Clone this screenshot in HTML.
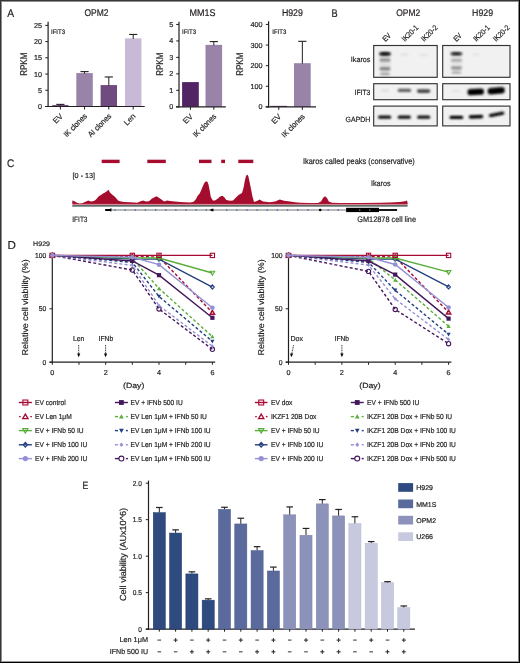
<!DOCTYPE html>
<html><head><meta charset="utf-8"><style>
html,body{margin:0;padding:0;background:#fff;}
svg{display:block;will-change:transform;}
text{text-rendering:geometricPrecision;stroke:#231f20;stroke-width:0.2px;font-family:"Liberation Sans", sans-serif;}
</style></head><body>
<svg width="520" height="663" viewBox="0 0 520 663" fill="#231f20">
<defs><filter id="b3" x="-50%" y="-50%" width="200%" height="200%"><feGaussianBlur stdDeviation="0.3"/></filter><filter id="b4" x="-50%" y="-50%" width="200%" height="200%"><feGaussianBlur stdDeviation="0.4"/></filter><filter id="b5" x="-50%" y="-50%" width="200%" height="200%"><feGaussianBlur stdDeviation="0.5"/></filter><filter id="b6" x="-50%" y="-50%" width="200%" height="200%"><feGaussianBlur stdDeviation="0.6"/></filter><filter id="b7" x="-50%" y="-50%" width="200%" height="200%"><feGaussianBlur stdDeviation="0.7"/></filter><filter id="b8" x="-50%" y="-50%" width="200%" height="200%"><feGaussianBlur stdDeviation="0.8"/></filter><filter id="b9" x="-50%" y="-50%" width="200%" height="200%"><feGaussianBlur stdDeviation="0.9"/></filter><filter id="b10" x="-50%" y="-50%" width="200%" height="200%"><feGaussianBlur stdDeviation="1.0"/></filter><filter id="b11" x="-50%" y="-50%" width="200%" height="200%"><feGaussianBlur stdDeviation="1.1"/></filter><filter id="b12" x="-50%" y="-50%" width="200%" height="200%"><feGaussianBlur stdDeviation="1.2"/></filter><filter id="b13" x="-50%" y="-50%" width="200%" height="200%"><feGaussianBlur stdDeviation="1.3"/></filter><filter id="b14" x="-50%" y="-50%" width="200%" height="200%"><feGaussianBlur stdDeviation="1.4"/></filter><filter id="b15" x="-50%" y="-50%" width="200%" height="200%"><feGaussianBlur stdDeviation="1.5"/></filter></defs>
<rect width="520" height="663" fill="#fff"/>
<text x="7.2" y="17.1" font-size="11.2" textLength="6.9" lengthAdjust="spacingAndGlyphs">A</text>
<text x="96.5" y="15.5" font-size="9.8" text-anchor="middle" textLength="24" lengthAdjust="spacingAndGlyphs">OPM2</text>
<rect x="52.3" y="105.2" width="16.2" height="1.3" fill="#522464"/>
<line x1="60.4" y1="104.39" x2="60.4" y2="105.7" stroke="#231f20" stroke-width="1"/>
<line x1="56.3" y1="104.39" x2="64.5" y2="104.39" stroke="#231f20" stroke-width="1.1"/>
<line x1="60.4" y1="106.5" x2="60.4" y2="109.5" stroke="#231f20" stroke-width="1"/>
<text x="63.4" y="116.7" font-size="7.8" text-anchor="end" transform="rotate(-45 63.4 116.7)">EV</text>
<rect x="76.3" y="73.08" width="16.5" height="33.42" fill="#9a83a8"/>
<line x1="84.55" y1="71.62" x2="84.55" y2="73.58" stroke="#231f20" stroke-width="1"/>
<line x1="80.45" y1="71.62" x2="88.65" y2="71.62" stroke="#231f20" stroke-width="1.1"/>
<line x1="84.55" y1="106.5" x2="84.55" y2="109.5" stroke="#231f20" stroke-width="1"/>
<text x="87.55" y="116.7" font-size="7.8" text-anchor="end" textLength="29.5" lengthAdjust="spacingAndGlyphs" transform="rotate(-45 87.55 116.7)">IK clones</text>
<rect x="100.6" y="85.08" width="16.4" height="21.42" fill="#6f4b80"/>
<line x1="108.8" y1="76.97" x2="108.8" y2="85.58" stroke="#231f20" stroke-width="1"/>
<line x1="104.7" y1="76.97" x2="112.9" y2="76.97" stroke="#231f20" stroke-width="1.1"/>
<line x1="108.8" y1="106.5" x2="108.8" y2="109.5" stroke="#231f20" stroke-width="1"/>
<text x="111.8" y="116.7" font-size="7.8" text-anchor="end" textLength="29.5" lengthAdjust="spacingAndGlyphs" transform="rotate(-45 111.8 116.7)">AI clones</text>
<rect x="125" y="38.36" width="16.4" height="68.14" fill="#c8b9d6"/>
<line x1="133.2" y1="34.46" x2="133.2" y2="38.86" stroke="#231f20" stroke-width="1"/>
<line x1="129.1" y1="34.46" x2="137.3" y2="34.46" stroke="#231f20" stroke-width="1.1"/>
<line x1="133.2" y1="106.5" x2="133.2" y2="109.5" stroke="#231f20" stroke-width="1"/>
<text x="136.2" y="116.7" font-size="7.8" text-anchor="end" transform="rotate(-45 136.2 116.7)">Len</text>
<line x1="48.1" y1="21.8" x2="48.1" y2="107.1" stroke="#231f20" stroke-width="1.2"/>
<line x1="45.1" y1="106.5" x2="144.7" y2="106.5" stroke="#231f20" stroke-width="1.2"/>
<line x1="45.3" y1="106.5" x2="48.1" y2="106.5" stroke="#231f20" stroke-width="1"/>
<text x="41.9" y="109" font-size="7.2" text-anchor="end">0</text>
<line x1="45.3" y1="90.28" x2="48.1" y2="90.28" stroke="#231f20" stroke-width="1"/>
<text x="41.9" y="92.78" font-size="7.2" text-anchor="end">5</text>
<line x1="45.3" y1="74.05" x2="48.1" y2="74.05" stroke="#231f20" stroke-width="1"/>
<text x="41.9" y="76.55" font-size="7.2" text-anchor="end">10</text>
<line x1="45.3" y1="57.82" x2="48.1" y2="57.82" stroke="#231f20" stroke-width="1"/>
<text x="41.9" y="60.32" font-size="7.2" text-anchor="end">15</text>
<line x1="45.3" y1="41.6" x2="48.1" y2="41.6" stroke="#231f20" stroke-width="1"/>
<text x="41.9" y="44.1" font-size="7.2" text-anchor="end">20</text>
<line x1="45.3" y1="25.38" x2="48.1" y2="25.38" stroke="#231f20" stroke-width="1"/>
<text x="41.9" y="27.88" font-size="7.2" text-anchor="end">25</text>
<text x="26.9" y="64.2" font-size="9.8" text-anchor="middle" textLength="23" lengthAdjust="spacingAndGlyphs" transform="rotate(-90 26.9 64.2)">RPKM</text>
<text x="51" y="34.4" font-size="6.5" textLength="14" lengthAdjust="spacingAndGlyphs">IFIT3</text>
<text x="202.5" y="15.5" font-size="9.8" text-anchor="middle" textLength="26" lengthAdjust="spacingAndGlyphs">MM1S</text>
<rect x="182.1" y="82.09" width="16.7" height="24.7" fill="#522464"/>
<line x1="190.45" y1="106.8" x2="190.45" y2="109.8" stroke="#231f20" stroke-width="1"/>
<text x="193.45" y="117" font-size="7.8" text-anchor="end" transform="rotate(-45 193.45 117)">EV</text>
<rect x="205.5" y="44.87" width="16.6" height="61.93" fill="#9a83a8"/>
<line x1="213.8" y1="41.58" x2="213.8" y2="45.37" stroke="#231f20" stroke-width="1"/>
<line x1="209.7" y1="41.58" x2="217.9" y2="41.58" stroke="#231f20" stroke-width="1.1"/>
<line x1="213.8" y1="106.8" x2="213.8" y2="109.8" stroke="#231f20" stroke-width="1"/>
<text x="216.8" y="117" font-size="7.8" text-anchor="end" textLength="29.5" lengthAdjust="spacingAndGlyphs" transform="rotate(-45 216.8 117)">IK clones</text>
<line x1="179" y1="21.8" x2="179" y2="107.4" stroke="#231f20" stroke-width="1.2"/>
<line x1="176" y1="106.8" x2="225.8" y2="106.8" stroke="#231f20" stroke-width="1.2"/>
<line x1="176.2" y1="106.8" x2="179" y2="106.8" stroke="#231f20" stroke-width="1"/>
<text x="173.2" y="109.3" font-size="7.2" text-anchor="end">0</text>
<line x1="176.2" y1="90.33" x2="179" y2="90.33" stroke="#231f20" stroke-width="1"/>
<text x="173.2" y="92.83" font-size="7.2" text-anchor="end">1</text>
<line x1="176.2" y1="73.86" x2="179" y2="73.86" stroke="#231f20" stroke-width="1"/>
<text x="173.2" y="76.36" font-size="7.2" text-anchor="end">2</text>
<line x1="176.2" y1="57.39" x2="179" y2="57.39" stroke="#231f20" stroke-width="1"/>
<text x="173.2" y="59.89" font-size="7.2" text-anchor="end">3</text>
<line x1="176.2" y1="40.92" x2="179" y2="40.92" stroke="#231f20" stroke-width="1"/>
<text x="173.2" y="43.42" font-size="7.2" text-anchor="end">4</text>
<line x1="176.2" y1="24.45" x2="179" y2="24.45" stroke="#231f20" stroke-width="1"/>
<text x="173.2" y="26.95" font-size="7.2" text-anchor="end">5</text>
<text x="163.4" y="64.2" font-size="9.8" text-anchor="middle" textLength="23" lengthAdjust="spacingAndGlyphs" transform="rotate(-90 163.4 64.2)">RPKM</text>
<text x="182" y="34.4" font-size="6.5" textLength="14" lengthAdjust="spacingAndGlyphs">IFIT3</text>
<text x="292.4" y="15.5" font-size="9.8" text-anchor="middle" textLength="21" lengthAdjust="spacingAndGlyphs">H929</text>
<rect x="270.4" y="105.87" width="16.7" height="1.03" fill="#522464"/>
<line x1="278.75" y1="106.9" x2="278.75" y2="109.9" stroke="#231f20" stroke-width="1"/>
<text x="281.75" y="117.1" font-size="7.8" text-anchor="end" transform="rotate(-45 281.75 117.1)">EV</text>
<rect x="294" y="63.19" width="16.7" height="43.71" fill="#9a83a8"/>
<line x1="302.35" y1="41.33" x2="302.35" y2="63.69" stroke="#231f20" stroke-width="1"/>
<line x1="298.25" y1="41.33" x2="306.45" y2="41.33" stroke="#231f20" stroke-width="1.1"/>
<line x1="302.35" y1="106.9" x2="302.35" y2="109.9" stroke="#231f20" stroke-width="1"/>
<text x="305.35" y="117.1" font-size="7.8" text-anchor="end" textLength="29.5" lengthAdjust="spacingAndGlyphs" transform="rotate(-45 305.35 117.1)">IK clones</text>
<line x1="268.6" y1="21.3" x2="268.6" y2="107.5" stroke="#231f20" stroke-width="1.2"/>
<line x1="265.6" y1="106.9" x2="316" y2="106.9" stroke="#231f20" stroke-width="1.2"/>
<line x1="265.8" y1="106.9" x2="268.6" y2="106.9" stroke="#231f20" stroke-width="1"/>
<text x="262.6" y="109.4" font-size="7.2" text-anchor="end">0</text>
<line x1="265.8" y1="86.28" x2="268.6" y2="86.28" stroke="#231f20" stroke-width="1"/>
<text x="262.6" y="88.78" font-size="7.2" text-anchor="end">100</text>
<line x1="265.8" y1="65.66" x2="268.6" y2="65.66" stroke="#231f20" stroke-width="1"/>
<text x="262.6" y="68.16" font-size="7.2" text-anchor="end">200</text>
<line x1="265.8" y1="45.04" x2="268.6" y2="45.04" stroke="#231f20" stroke-width="1"/>
<text x="262.6" y="47.54" font-size="7.2" text-anchor="end">300</text>
<line x1="265.8" y1="24.42" x2="268.6" y2="24.42" stroke="#231f20" stroke-width="1"/>
<text x="262.6" y="26.92" font-size="7.2" text-anchor="end">400</text>
<text x="243.5" y="64.2" font-size="9.8" text-anchor="middle" textLength="23" lengthAdjust="spacingAndGlyphs" transform="rotate(-90 243.5 64.2)">RPKM</text>
<text x="272.3" y="34.4" font-size="6.5" textLength="14" lengthAdjust="spacingAndGlyphs">IFIT3</text>
<text x="331.4" y="17.3" font-size="11" textLength="6.1" lengthAdjust="spacingAndGlyphs">B</text>
<text x="408.2" y="15.8" font-size="9.6" text-anchor="middle" textLength="24" lengthAdjust="spacingAndGlyphs">OPM2</text>
<text x="482.6" y="15.5" font-size="9.6" text-anchor="middle" textLength="21" lengthAdjust="spacingAndGlyphs">H929</text>
<rect x="373.7" y="45.5" width="63.5" height="31.8" fill="#f1f1f1" stroke="#333" stroke-width="1.15"/>
<rect x="373.7" y="83.7" width="63.5" height="16" fill="#f1f1f1" stroke="#333" stroke-width="1.15"/>
<rect x="373.7" y="106.1" width="63.5" height="19.8" fill="#f1f1f1" stroke="#333" stroke-width="1.15"/>
<text x="385.6" y="42.1" font-size="7.6" textLength="8.4" lengthAdjust="spacingAndGlyphs" transform="rotate(-45 385.6 42.1)">EV</text>
<text x="404.8" y="42.1" font-size="7.6" textLength="20" lengthAdjust="spacingAndGlyphs" transform="rotate(-45 404.8 42.1)">IK20-1</text>
<text x="424.1" y="42.1" font-size="7.6" textLength="20" lengthAdjust="spacingAndGlyphs" transform="rotate(-45 424.1 42.1)">IK20-2</text>
<rect x="442.7" y="45.5" width="67.3" height="31.8" fill="#f1f1f1" stroke="#333" stroke-width="1.15"/>
<rect x="442.7" y="83.7" width="67.3" height="16" fill="#f1f1f1" stroke="#333" stroke-width="1.15"/>
<rect x="442.7" y="106.1" width="67.3" height="19.8" fill="#f1f1f1" stroke="#333" stroke-width="1.15"/>
<text x="456.4" y="42.1" font-size="7.6" textLength="8.4" lengthAdjust="spacingAndGlyphs" transform="rotate(-45 456.4 42.1)">EV</text>
<text x="476.2" y="42.1" font-size="7.6" textLength="20" lengthAdjust="spacingAndGlyphs" transform="rotate(-45 476.2 42.1)">IK20-1</text>
<text x="496.1" y="42.1" font-size="7.6" textLength="20" lengthAdjust="spacingAndGlyphs" transform="rotate(-45 496.1 42.1)">IK20-2</text>
<text x="370.4" y="61.5" font-size="7.5" text-anchor="end" textLength="19.6" lengthAdjust="spacingAndGlyphs">Ikaros</text>
<text x="370.4" y="94.8" font-size="7.5" text-anchor="end" textLength="15.8" lengthAdjust="spacingAndGlyphs">IFIT3</text>
<text x="370.4" y="121.7" font-size="7.5" text-anchor="end" textLength="24.8" lengthAdjust="spacingAndGlyphs">GAPDH</text>
<rect x="379.5" y="51" width="11" height="24" rx="12" fill="#000" fill-opacity="0.07" filter="url(#b15)"/>
<rect x="379" y="52.1" width="12" height="3.6" rx="1.8" fill="#000" fill-opacity="0.8" filter="url(#b10)"/>
<rect x="381.5" y="52.8" width="7" height="2.2" rx="1.1" fill="#000" fill-opacity="0.7" filter="url(#b8)"/>
<rect x="379.5" y="58.6" width="11" height="2.8" rx="1.4" fill="#000" fill-opacity="0.38" filter="url(#b10)"/>
<rect x="379.5" y="67.2" width="11" height="3" rx="1.5" fill="#000" fill-opacity="0.45" filter="url(#b10)"/>
<rect x="380" y="72.75" width="10" height="2.5" rx="1.25" fill="#000" fill-opacity="0.3" filter="url(#b10)"/>
<rect x="400.4" y="53.5" width="8" height="2.6" rx="1.3" fill="#000" fill-opacity="0.07" filter="url(#b12)"/>
<rect x="419.7" y="53.5" width="8" height="2.6" rx="1.3" fill="#000" fill-opacity="0.06" filter="url(#b12)"/>
<rect x="381.2" y="89.4" width="8" height="2.4" rx="1.2" fill="#000" fill-opacity="0.09" filter="url(#b12)"/>
<rect x="397.65" y="88.7" width="13.5" height="3.4" rx="1.7" fill="#000" fill-opacity="0.62" filter="url(#b10)"/>
<rect x="416.85" y="89.3" width="13.5" height="3.6" rx="1.8" fill="#000" fill-opacity="0.72" filter="url(#b10)"/>
<rect x="378" y="115.55" width="13.2" height="3.3" rx="1.65" fill="#000" fill-opacity="0.95" filter="url(#b9)"/>
<rect x="397.7" y="115.55" width="13.2" height="3.3" rx="1.65" fill="#000" fill-opacity="0.95" filter="url(#b9)"/>
<rect x="417.1" y="115.55" width="13.2" height="3.3" rx="1.65" fill="#000" fill-opacity="0.93" filter="url(#b9)"/>
<rect x="450.9" y="52" width="11" height="22" rx="11" fill="#000" fill-opacity="0.06" filter="url(#b15)"/>
<rect x="450.4" y="52.1" width="12" height="3.4" rx="1.7" fill="#000" fill-opacity="0.7" filter="url(#b10)"/>
<rect x="453.15" y="52.8" width="6.5" height="2" rx="1" fill="#000" fill-opacity="0.6" filter="url(#b8)"/>
<rect x="450.9" y="59" width="11" height="2.6" rx="1.3" fill="#000" fill-opacity="0.28" filter="url(#b10)"/>
<rect x="450.9" y="66.6" width="11" height="2.8" rx="1.4" fill="#000" fill-opacity="0.38" filter="url(#b10)"/>
<rect x="451.4" y="71.4" width="10" height="2.4" rx="1.2" fill="#000" fill-opacity="0.28" filter="url(#b10)"/>
<rect x="472.3" y="53.3" width="7" height="2.4" rx="1.2" fill="#000" fill-opacity="0.05" filter="url(#b12)"/>
<rect x="452" y="89.7" width="8" height="2.6" rx="1.3" fill="#000" fill-opacity="0.06" filter="url(#b12)"/>
<rect x="467.4" y="88.8" width="16.6" height="6.2" rx="3.1" fill="#000" fill-opacity="1.0" filter="url(#b8)" transform="rotate(-3 475.7 91.9)"/>
<rect x="487.6" y="87.6" width="17.2" height="6.4" rx="3.2" fill="#000" fill-opacity="1.0" filter="url(#b8)" transform="rotate(-5 496.2 90.8)"/>
<rect x="449.5" y="115.8" width="13.8" height="3.2" rx="1.6" fill="#000" fill-opacity="1.0" filter="url(#b8)"/>
<rect x="468.7" y="115" width="14.6" height="3.4" rx="1.7" fill="#000" fill-opacity="1.0" filter="url(#b8)" transform="rotate(-2 476 116.7)"/>
<rect x="488.8" y="112.65" width="15.6" height="3.3" rx="1.65" fill="#000" fill-opacity="1.0" filter="url(#b8)" transform="rotate(-11 496.6 114.3)"/>
<text x="7.1" y="167.3" font-size="11" textLength="7.2" lengthAdjust="spacingAndGlyphs">C</text>
<rect x="101.7" y="159.7" width="17.9" height="3.4" fill="#a50d2e"/>
<rect x="147.3" y="159.7" width="18.5" height="3.4" fill="#a50d2e"/>
<rect x="199" y="159.7" width="12.5" height="3.4" fill="#a50d2e"/>
<rect x="221.2" y="159.7" width="3.8" height="3.4" fill="#a50d2e"/>
<rect x="238.3" y="159.7" width="15" height="3.4" fill="#a50d2e"/>
<text x="302.9" y="164" font-size="8.3" textLength="111.9" lengthAdjust="spacingAndGlyphs">Ikaros called peaks (conservative)</text>
<text x="72.6" y="177.7" font-size="7.2" textLength="22.5" lengthAdjust="spacingAndGlyphs">[0 - 13]</text>
<text x="370.9" y="186.4" font-size="7.9" textLength="19.6" lengthAdjust="spacingAndGlyphs">Ikaros</text>
<polygon points="72.3,204.1 72.3,200.4 74,201 77,202.8 79.6,203.5 82,203.2 85,202 88.3,200.4 91,201.5 94,201 96,199.5 98.8,196.2 101,195 103,193.5 105,192.5 106.5,191.5 108.5,189.8 110,192.5 112,194.5 114,196 116,198 118,200.5 120,201.2 124,202 130,202.3 134,202.5 137.3,202.8 140,201.5 143,200.4 146,201.5 149,201.2 152,198.5 156.5,196.2 160,198.5 164.2,201.5 167,200.5 170,201 175,201.5 180,202 185,202.3 190,202.5 193,202 194.2,201.2 196,199 197.5,196 199.7,193.6 201.5,189.5 203.2,185.3 205,182 206.3,181.2 207.5,182 208.5,184.5 210,192 210.8,197 212.9,200.5 215,200.4 218,198.5 220,196.5 222.5,195.7 224.5,197.5 226.3,200 230,200.8 233,200.5 236,197.5 238.5,195 242,193 243.5,188 244.7,181.2 246,176 247.1,174.4 248.3,176 249.6,181.9 251,189 252.3,195.7 254,201.9 257,201 259.6,199.6 263,201.5 270,202.3 275,201.5 279.8,199.6 284,200.8 290,201.5 295,202.3 300,202.7 310,203 318,203 321,201.5 323,198 325,196.2 327,198 328.8,201.5 332,202.8 340,203 360,203 380,202.8 390,202.5 400,202 405,201.3 407,200.5 407.6,203 407.6,204.1" fill="#a50d2e"/>
<rect x="72.3" y="203.9" width="335.3" height="1" fill="#e0808e"/>
<rect x="72.3" y="204.9" width="335.3" height="1.8" fill="#5f6b68"/>
<rect x="111" y="209.1" width="235.1" height="1.8" fill="#b2b2b2"/>
<path d="M105.1 209.3 Q105.1 208.9 105.6 208.9 L110.4 208.9 L110.4 208.3 L111.4 208.3 L111.4 211.6 L110.4 211.6 L110.4 211.0 L105.6 211.0 Q105.1 211.0 105.1 210.6 Z" fill="#000"/>
<rect x="114.35" y="209.35" width="1.3" height="1.3" fill="#3d5aa8"/>
<rect x="124.5" y="209.35" width="1.3" height="1.3" fill="#3d5aa8"/>
<rect x="134.65" y="209.35" width="1.3" height="1.3" fill="#3d5aa8"/>
<rect x="144.8" y="209.35" width="1.3" height="1.3" fill="#3d5aa8"/>
<rect x="154.95" y="209.35" width="1.3" height="1.3" fill="#3d5aa8"/>
<rect x="165.1" y="209.35" width="1.3" height="1.3" fill="#3d5aa8"/>
<rect x="175.25" y="209.35" width="1.3" height="1.3" fill="#3d5aa8"/>
<rect x="185.4" y="209.35" width="1.3" height="1.3" fill="#3d5aa8"/>
<rect x="195.55" y="209.35" width="1.3" height="1.3" fill="#3d5aa8"/>
<rect x="205.7" y="209.35" width="1.3" height="1.3" fill="#3d5aa8"/>
<rect x="226" y="209.35" width="1.3" height="1.3" fill="#3d5aa8"/>
<rect x="236.15" y="209.35" width="1.3" height="1.3" fill="#3d5aa8"/>
<rect x="246.3" y="209.35" width="1.3" height="1.3" fill="#3d5aa8"/>
<rect x="256.45" y="209.35" width="1.3" height="1.3" fill="#3d5aa8"/>
<rect x="266.6" y="209.35" width="1.3" height="1.3" fill="#3d5aa8"/>
<rect x="276.75" y="209.35" width="1.3" height="1.3" fill="#3d5aa8"/>
<rect x="286.9" y="209.35" width="1.3" height="1.3" fill="#3d5aa8"/>
<rect x="297.05" y="209.35" width="1.3" height="1.3" fill="#3d5aa8"/>
<rect x="307.2" y="209.35" width="1.3" height="1.3" fill="#3d5aa8"/>
<rect x="327.5" y="209.35" width="1.3" height="1.3" fill="#3d5aa8"/>
<rect x="337.65" y="209.35" width="1.3" height="1.3" fill="#3d5aa8"/>
<path d="M209.6 210 L212 208.7 L213.5 208.7 L213.5 211.3 L212 211.3 Z" fill="#000"/>
<circle cx="320.2" cy="210" r="1.3" fill="#000"/>
<rect x="346.1" y="207.8" width="32.9" height="4.3" fill="#000"/>
<rect x="379" y="209.1" width="18.1" height="1.8" fill="#000"/>
<circle cx="359.8" cy="210" r="0.6" fill="#fff"/>
<circle cx="369.8" cy="210" r="0.6" fill="#fff"/>
<text x="72.3" y="222.2" font-size="7.7" textLength="15.2" lengthAdjust="spacingAndGlyphs">IFIT3</text>
<text x="357.3" y="222.1" font-size="8" textLength="58.7" lengthAdjust="spacingAndGlyphs">GM12878 cell line</text>
<text x="7.4" y="248.6" font-size="11.6">D</text>
<text x="33.1" y="246.2" font-size="6.6" textLength="16.9" lengthAdjust="spacingAndGlyphs">H929</text>
<line x1="52.3" y1="255.3" x2="52.3" y2="362.8" stroke="#231f20" stroke-width="1.2"/>
<line x1="49.5" y1="362.2" x2="215.18" y2="362.2" stroke="#231f20" stroke-width="1.2"/>
<line x1="49.5" y1="362.2" x2="52.3" y2="362.2" stroke="#231f20" stroke-width="1"/>
<text x="46.3" y="364.7" font-size="7.2" text-anchor="end" textLength="3.76" lengthAdjust="spacingAndGlyphs">0</text>
<line x1="49.5" y1="308.8" x2="52.3" y2="308.8" stroke="#231f20" stroke-width="1"/>
<text x="46.3" y="311.3" font-size="7.2" text-anchor="end" textLength="7.53" lengthAdjust="spacingAndGlyphs">50</text>
<line x1="49.5" y1="255.4" x2="52.3" y2="255.4" stroke="#231f20" stroke-width="1"/>
<text x="46.3" y="257.9" font-size="7.2" text-anchor="end" textLength="11.29" lengthAdjust="spacingAndGlyphs">100</text>
<line x1="52.3" y1="362.2" x2="52.3" y2="364.8" stroke="#231f20" stroke-width="1"/>
<text x="52.3" y="374.8" font-size="7.2" text-anchor="middle">0</text>
<line x1="78.98" y1="362.2" x2="78.98" y2="364.8" stroke="#231f20" stroke-width="1"/>
<line x1="105.66" y1="362.2" x2="105.66" y2="364.8" stroke="#231f20" stroke-width="1"/>
<text x="105.66" y="374.8" font-size="7.2" text-anchor="middle">2</text>
<line x1="132.34" y1="362.2" x2="132.34" y2="364.8" stroke="#231f20" stroke-width="1"/>
<line x1="159.02" y1="362.2" x2="159.02" y2="364.8" stroke="#231f20" stroke-width="1"/>
<text x="159.02" y="374.8" font-size="7.2" text-anchor="middle">4</text>
<line x1="185.7" y1="362.2" x2="185.7" y2="364.8" stroke="#231f20" stroke-width="1"/>
<line x1="212.38" y1="362.2" x2="212.38" y2="364.8" stroke="#231f20" stroke-width="1"/>
<text x="212.38" y="374.8" font-size="7.2" text-anchor="middle">6</text>
<text x="28.3" y="307.4" font-size="8.5" text-anchor="middle" textLength="96" lengthAdjust="spacingAndGlyphs" transform="rotate(-90 28.3 307.4)">Relative cell viability (%)</text>
<text x="133.7" y="387.6" font-size="7.5" text-anchor="middle" textLength="21.3" lengthAdjust="spacingAndGlyphs">(Day)</text>
<polyline points="52.3,255.4 132.34,270.03 159.02,309.01 212.38,349.28" fill="none" stroke="#44175b" stroke-width="1.4" stroke-dasharray="3 2.2"/>
<circle cx="52.3" cy="255.4" r="2.15" fill="none" stroke="#44175b" stroke-width="1.1"/>
<circle cx="132.34" cy="270.03" r="2.15" fill="none" stroke="#44175b" stroke-width="1.1"/>
<circle cx="159.02" cy="309.01" r="2.15" fill="none" stroke="#44175b" stroke-width="1.1"/>
<circle cx="212.38" cy="349.28" r="2.15" fill="none" stroke="#44175b" stroke-width="1.1"/>
<polyline points="52.3,255.4 132.34,265.33 159.02,305.6 212.38,346.18" fill="none" stroke="#9590d4" stroke-width="1.4" stroke-dasharray="3 2.2"/>
<path d="M52.3 253.5 L54 255.4 L52.3 257.3 L50.6 255.4 Z" fill="#9590d4"/>
<path d="M132.34 263.43 L134.04 265.33 L132.34 267.23 L130.64 265.33 Z" fill="#9590d4"/>
<path d="M159.02 303.7 L160.72 305.6 L159.02 307.5 L157.32 305.6 Z" fill="#9590d4"/>
<path d="M212.38 344.28 L214.08 346.18 L212.38 348.08 L210.68 346.18 Z" fill="#9590d4"/>
<polyline points="52.3,255.4 132.34,262.34 159.02,296.52 212.38,341.37" fill="none" stroke="#223f7f" stroke-width="1.4" stroke-dasharray="3 2.2"/>
<path d="M52.3 257.5 L54.4 253.7 L50.2 253.7 Z" fill="#223f7f"/>
<path d="M132.34 264.44 L134.44 260.64 L130.24 260.64 Z" fill="#223f7f"/>
<path d="M159.02 298.62 L161.12 294.82 L156.92 294.82 Z" fill="#223f7f"/>
<path d="M212.38 343.47 L214.48 339.67 L210.28 339.67 Z" fill="#223f7f"/>
<polyline points="52.3,255.4 132.34,258.6 159.02,288.51 212.38,336.57" fill="none" stroke="#5aae3c" stroke-width="1.4" stroke-dasharray="3 2.2"/>
<path d="M52.3 253.3 L54.4 257.1 L50.2 257.1 Z" fill="#5aae3c"/>
<path d="M132.34 256.5 L134.44 260.3 L130.24 260.3 Z" fill="#5aae3c"/>
<path d="M159.02 286.41 L161.12 290.21 L156.92 290.21 Z" fill="#5aae3c"/>
<path d="M212.38 334.47 L214.48 338.27 L210.28 338.27 Z" fill="#5aae3c"/>
<polyline points="52.3,255.4 132.34,256.47 159.02,257 212.38,312.54" fill="none" stroke="#a60a33" stroke-width="1.4" stroke-dasharray="3 2.2"/>
<path d="M52.3 253.2 L54.6 257.1 L50 257.1 Z" fill="none" stroke="#a60a33" stroke-width="1.32"/>
<path d="M132.34 254.27 L134.64 258.17 L130.04 258.17 Z" fill="none" stroke="#a60a33" stroke-width="1.32"/>
<path d="M159.02 254.8 L161.32 258.7 L156.72 258.7 Z" fill="none" stroke="#a60a33" stroke-width="1.32"/>
<path d="M212.38 310.34 L214.68 314.24 L210.08 314.24 Z" fill="none" stroke="#a60a33" stroke-width="1.32"/>
<polyline points="52.3,255.4 132.34,259.14 159.02,259.14 212.38,287.01" fill="none" stroke="#223f7f" stroke-width="1.4"/>
<path d="M52.3 253.3 L54.2 255.4 L52.3 257.5 L50.4 255.4 Z" fill="none" stroke="#223f7f" stroke-width="1.1"/>
<path d="M132.34 257.04 L134.24 259.14 L132.34 261.24 L130.44 259.14 Z" fill="none" stroke="#223f7f" stroke-width="1.1"/>
<path d="M159.02 257.04 L160.92 259.14 L159.02 261.24 L157.12 259.14 Z" fill="none" stroke="#223f7f" stroke-width="1.1"/>
<path d="M212.38 284.91 L214.28 287.01 L212.38 289.11 L210.48 287.01 Z" fill="none" stroke="#223f7f" stroke-width="1.1"/>
<polyline points="52.3,255.4 132.34,258.07 159.02,258.07 212.38,273.02" fill="none" stroke="#5aae3c" stroke-width="1.4"/>
<path d="M52.3 257.6 L54.6 253.7 L50 253.7 Z" fill="none" stroke="#5aae3c" stroke-width="1.1"/>
<path d="M132.34 260.27 L134.64 256.37 L130.04 256.37 Z" fill="none" stroke="#5aae3c" stroke-width="1.1"/>
<path d="M159.02 260.27 L161.32 256.37 L156.72 256.37 Z" fill="none" stroke="#5aae3c" stroke-width="1.1"/>
<path d="M212.38 275.22 L214.68 271.32 L210.08 271.32 Z" fill="none" stroke="#5aae3c" stroke-width="1.1"/>
<polyline points="52.3,255.4 132.34,260.95 159.02,275.16 212.38,317.77" fill="none" stroke="#44175b" stroke-width="1.4"/>
<rect x="50.2" y="253.3" width="4.2" height="4.2" fill="#44175b"/>
<rect x="130.24" y="258.85" width="4.2" height="4.2" fill="#44175b"/>
<rect x="156.92" y="273.06" width="4.2" height="4.2" fill="#44175b"/>
<rect x="210.28" y="315.67" width="4.2" height="4.2" fill="#44175b"/>
<polyline points="52.3,255.4 132.34,255.4 159.02,255.4 212.38,255.4" fill="none" stroke="#a60a33" stroke-width="1.4"/>
<rect x="50.15" y="253.25" width="4.3" height="4.3" fill="none" stroke="#a60a33" stroke-width="1.1"/>
<rect x="130.19" y="253.25" width="4.3" height="4.3" fill="none" stroke="#a60a33" stroke-width="1.1"/>
<rect x="156.87" y="253.25" width="4.3" height="4.3" fill="none" stroke="#a60a33" stroke-width="1.1"/>
<rect x="210.23" y="253.25" width="4.3" height="4.3" fill="none" stroke="#a60a33" stroke-width="1.1"/>
<polyline points="52.3,255.4 132.34,257.22 159.02,264.69 212.38,307.73" fill="none" stroke="#9590d4" stroke-width="1.4"/>
<circle cx="52.3" cy="255.4" r="2.3" fill="#9590d4"/>
<circle cx="132.34" cy="257.22" r="2.3" fill="#9590d4"/>
<circle cx="159.02" cy="264.69" r="2.3" fill="#9590d4"/>
<circle cx="212.38" cy="307.73" r="2.3" fill="#9590d4"/>
<text x="72.9" y="340.9" font-size="7.2" textLength="11.5" lengthAdjust="spacingAndGlyphs">Len</text>
<line x1="78.7" y1="345" x2="78.7" y2="354" stroke="#111" stroke-width="0.9" stroke-dasharray="1 0.7"/>
<path d="M78.7 357.2 L80.3 353.5 L77.1 353.5 Z" fill="#000"/>
<text x="98.5" y="340.9" font-size="7.2" textLength="14.8" lengthAdjust="spacingAndGlyphs">IFNb</text>
<line x1="105.6" y1="345" x2="105.6" y2="354" stroke="#111" stroke-width="0.9" stroke-dasharray="1 0.7"/>
<path d="M105.6 357.2 L107.2 353.5 L104 353.5 Z" fill="#000"/>
<line x1="288.5" y1="255.3" x2="288.5" y2="362.8" stroke="#231f20" stroke-width="1.2"/>
<line x1="285.7" y1="362.2" x2="451.38" y2="362.2" stroke="#231f20" stroke-width="1.2"/>
<line x1="285.7" y1="362.2" x2="288.5" y2="362.2" stroke="#231f20" stroke-width="1"/>
<text x="282.5" y="364.7" font-size="7.2" text-anchor="end" textLength="3.76" lengthAdjust="spacingAndGlyphs">0</text>
<line x1="285.7" y1="308.8" x2="288.5" y2="308.8" stroke="#231f20" stroke-width="1"/>
<text x="282.5" y="311.3" font-size="7.2" text-anchor="end" textLength="7.53" lengthAdjust="spacingAndGlyphs">50</text>
<line x1="285.7" y1="255.4" x2="288.5" y2="255.4" stroke="#231f20" stroke-width="1"/>
<text x="282.5" y="257.9" font-size="7.2" text-anchor="end" textLength="11.29" lengthAdjust="spacingAndGlyphs">100</text>
<line x1="288.5" y1="362.2" x2="288.5" y2="364.8" stroke="#231f20" stroke-width="1"/>
<text x="288.5" y="374.8" font-size="7.2" text-anchor="middle">0</text>
<line x1="315.18" y1="362.2" x2="315.18" y2="364.8" stroke="#231f20" stroke-width="1"/>
<line x1="341.86" y1="362.2" x2="341.86" y2="364.8" stroke="#231f20" stroke-width="1"/>
<text x="341.86" y="374.8" font-size="7.2" text-anchor="middle">2</text>
<line x1="368.54" y1="362.2" x2="368.54" y2="364.8" stroke="#231f20" stroke-width="1"/>
<line x1="395.22" y1="362.2" x2="395.22" y2="364.8" stroke="#231f20" stroke-width="1"/>
<text x="395.22" y="374.8" font-size="7.2" text-anchor="middle">4</text>
<line x1="421.9" y1="362.2" x2="421.9" y2="364.8" stroke="#231f20" stroke-width="1"/>
<line x1="448.58" y1="362.2" x2="448.58" y2="364.8" stroke="#231f20" stroke-width="1"/>
<text x="448.58" y="374.8" font-size="7.2" text-anchor="middle">6</text>
<text x="264.5" y="307.4" font-size="8.5" text-anchor="middle" textLength="96" lengthAdjust="spacingAndGlyphs" transform="rotate(-90 264.5 307.4)">Relative cell viability (%)</text>
<text x="369.9" y="387.6" font-size="7.5" text-anchor="middle" textLength="21.3" lengthAdjust="spacingAndGlyphs">(Day)</text>
<polyline points="288.5,255.4 368.54,271.42 395.22,309.44 448.58,343.72" fill="none" stroke="#44175b" stroke-width="1.4" stroke-dasharray="3 2.2"/>
<circle cx="288.5" cy="255.4" r="2.15" fill="none" stroke="#44175b" stroke-width="1.1"/>
<circle cx="368.54" cy="271.42" r="2.15" fill="none" stroke="#44175b" stroke-width="1.1"/>
<circle cx="395.22" cy="309.44" r="2.15" fill="none" stroke="#44175b" stroke-width="1.1"/>
<circle cx="448.58" cy="343.72" r="2.15" fill="none" stroke="#44175b" stroke-width="1.1"/>
<polyline points="288.5,255.4 368.54,265.12 395.22,298.97 448.58,339.45" fill="none" stroke="#9590d4" stroke-width="1.4" stroke-dasharray="3 2.2"/>
<path d="M288.5 253.5 L290.2 255.4 L288.5 257.3 L286.8 255.4 Z" fill="#9590d4"/>
<path d="M368.54 263.22 L370.24 265.12 L368.54 267.02 L366.84 265.12 Z" fill="#9590d4"/>
<path d="M395.22 297.07 L396.92 298.97 L395.22 300.87 L393.52 298.97 Z" fill="#9590d4"/>
<path d="M448.58 337.55 L450.28 339.45 L448.58 341.35 L446.88 339.45 Z" fill="#9590d4"/>
<polyline points="288.5,255.4 368.54,262.34 395.22,290.32 448.58,334.33" fill="none" stroke="#223f7f" stroke-width="1.4" stroke-dasharray="3 2.2"/>
<path d="M288.5 257.5 L290.6 253.7 L286.4 253.7 Z" fill="#223f7f"/>
<path d="M368.54 264.44 L370.64 260.64 L366.44 260.64 Z" fill="#223f7f"/>
<path d="M395.22 292.42 L397.32 288.62 L393.12 288.62 Z" fill="#223f7f"/>
<path d="M448.58 336.43 L450.68 332.63 L446.48 332.63 Z" fill="#223f7f"/>
<polyline points="288.5,255.4 368.54,258.6 395.22,279.96 448.58,326.21" fill="none" stroke="#5aae3c" stroke-width="1.4" stroke-dasharray="3 2.2"/>
<path d="M288.5 253.3 L290.6 257.1 L286.4 257.1 Z" fill="#5aae3c"/>
<path d="M368.54 256.5 L370.64 260.3 L366.44 260.3 Z" fill="#5aae3c"/>
<path d="M395.22 277.86 L397.32 281.66 L393.12 281.66 Z" fill="#5aae3c"/>
<path d="M448.58 324.11 L450.68 327.91 L446.48 327.91 Z" fill="#5aae3c"/>
<polyline points="288.5,255.4 368.54,256.47 395.22,257 448.58,312.32" fill="none" stroke="#a60a33" stroke-width="1.4" stroke-dasharray="3 2.2"/>
<path d="M288.5 253.2 L290.8 257.1 L286.2 257.1 Z" fill="none" stroke="#a60a33" stroke-width="1.32"/>
<path d="M368.54 254.27 L370.84 258.17 L366.24 258.17 Z" fill="none" stroke="#a60a33" stroke-width="1.32"/>
<path d="M395.22 254.8 L397.52 258.7 L392.92 258.7 Z" fill="none" stroke="#a60a33" stroke-width="1.32"/>
<path d="M448.58 310.12 L450.88 314.02 L446.28 314.02 Z" fill="none" stroke="#a60a33" stroke-width="1.32"/>
<polyline points="288.5,255.4 368.54,259.14 395.22,259.14 448.58,286.91" fill="none" stroke="#223f7f" stroke-width="1.4"/>
<path d="M288.5 253.3 L290.4 255.4 L288.5 257.5 L286.6 255.4 Z" fill="none" stroke="#223f7f" stroke-width="1.1"/>
<path d="M368.54 257.04 L370.44 259.14 L368.54 261.24 L366.64 259.14 Z" fill="none" stroke="#223f7f" stroke-width="1.1"/>
<path d="M395.22 257.04 L397.12 259.14 L395.22 261.24 L393.32 259.14 Z" fill="none" stroke="#223f7f" stroke-width="1.1"/>
<path d="M448.58 284.81 L450.48 286.91 L448.58 289.01 L446.68 286.91 Z" fill="none" stroke="#223f7f" stroke-width="1.1"/>
<polyline points="288.5,255.4 368.54,258.07 395.22,258.07 448.58,272.17" fill="none" stroke="#5aae3c" stroke-width="1.4"/>
<path d="M288.5 257.6 L290.8 253.7 L286.2 253.7 Z" fill="none" stroke="#5aae3c" stroke-width="1.1"/>
<path d="M368.54 260.27 L370.84 256.37 L366.24 256.37 Z" fill="none" stroke="#5aae3c" stroke-width="1.1"/>
<path d="M395.22 260.27 L397.52 256.37 L392.92 256.37 Z" fill="none" stroke="#5aae3c" stroke-width="1.1"/>
<path d="M448.58 274.37 L450.88 270.47 L446.28 270.47 Z" fill="none" stroke="#5aae3c" stroke-width="1.1"/>
<polyline points="288.5,255.4 368.54,261.06 395.22,274.62 448.58,318.63" fill="none" stroke="#44175b" stroke-width="1.4"/>
<rect x="286.4" y="253.3" width="4.2" height="4.2" fill="#44175b"/>
<rect x="366.44" y="258.96" width="4.2" height="4.2" fill="#44175b"/>
<rect x="393.12" y="272.52" width="4.2" height="4.2" fill="#44175b"/>
<rect x="446.48" y="316.53" width="4.2" height="4.2" fill="#44175b"/>
<polyline points="288.5,255.4 368.54,255.4 395.22,255.4 448.58,255.4" fill="none" stroke="#a60a33" stroke-width="1.4"/>
<rect x="286.35" y="253.25" width="4.3" height="4.3" fill="none" stroke="#a60a33" stroke-width="1.1"/>
<rect x="366.39" y="253.25" width="4.3" height="4.3" fill="none" stroke="#a60a33" stroke-width="1.1"/>
<rect x="393.07" y="253.25" width="4.3" height="4.3" fill="none" stroke="#a60a33" stroke-width="1.1"/>
<rect x="446.43" y="253.25" width="4.3" height="4.3" fill="none" stroke="#a60a33" stroke-width="1.1"/>
<polyline points="288.5,255.4 368.54,257.22 395.22,264.48 448.58,307.52" fill="none" stroke="#9590d4" stroke-width="1.4"/>
<circle cx="288.5" cy="255.4" r="2.3" fill="#9590d4"/>
<circle cx="368.54" cy="257.22" r="2.3" fill="#9590d4"/>
<circle cx="395.22" cy="264.48" r="2.3" fill="#9590d4"/>
<circle cx="448.58" cy="307.52" r="2.3" fill="#9590d4"/>
<text x="290.4" y="340.9" font-size="7.2" textLength="12.6" lengthAdjust="spacingAndGlyphs">Dox</text>
<line x1="293.6" y1="345.2" x2="291.7" y2="353.8" stroke="#111" stroke-width="0.9" stroke-dasharray="1 0.7"/>
<path d="M291.2 357.2 L293.3 353.5 L290.1 353.5 Z" fill="#000"/>
<text x="334.6" y="340.9" font-size="7.2" textLength="14.4" lengthAdjust="spacingAndGlyphs">IFNb</text>
<line x1="341.9" y1="345" x2="341.9" y2="354" stroke="#111" stroke-width="0.9" stroke-dasharray="1 0.7"/>
<path d="M341.9 357.2 L343.5 353.5 L340.3 353.5 Z" fill="#000"/>
<line x1="18.8" y1="402.5" x2="31.9" y2="402.5" stroke="#a60a33" stroke-width="1.4"/>
<rect x="22.88" y="400.03" width="4.94" height="4.94" fill="none" stroke="#a60a33" stroke-width="1.1"/>
<text x="35" y="405.1" font-size="7.3" textLength="30.64" lengthAdjust="spacingAndGlyphs">EV control</text>
<line x1="19.1" y1="416.6" x2="20.7" y2="416.6" stroke="#a60a33" stroke-width="1.4"/>
<line x1="30.3" y1="416.6" x2="31.9" y2="416.6" stroke="#a60a33" stroke-width="1.4"/>
<path d="M25.35 414.07 L28 418.56 L22.71 418.56 Z" fill="none" stroke="#a60a33" stroke-width="1.32"/>
<text x="35" y="419.2" font-size="7.3" textLength="36.69" lengthAdjust="spacingAndGlyphs">EV Len 1&#956;M</text>
<line x1="18.8" y1="430.6" x2="31.9" y2="430.6" stroke="#5aae3c" stroke-width="1.4"/>
<path d="M25.35 433.13 L28 428.65 L22.71 428.65 Z" fill="none" stroke="#5aae3c" stroke-width="1.1"/>
<text x="35" y="433.2" font-size="7.3" textLength="48.55" lengthAdjust="spacingAndGlyphs">EV + IFNb 50 IU</text>
<line x1="18.8" y1="444.8" x2="31.9" y2="444.8" stroke="#223f7f" stroke-width="1.4"/>
<path d="M25.35 442.38 L27.54 444.8 L25.35 447.22 L23.17 444.8 Z" fill="none" stroke="#223f7f" stroke-width="1.1"/>
<text x="35" y="447.4" font-size="7.3" textLength="52.24" lengthAdjust="spacingAndGlyphs">EV + IFNb 100 IU</text>
<line x1="18.8" y1="458.6" x2="31.9" y2="458.6" stroke="#9590d4" stroke-width="1.4"/>
<circle cx="25.35" cy="458.6" r="2.64" fill="#9590d4"/>
<text x="35" y="461.2" font-size="7.3" textLength="52.24" lengthAdjust="spacingAndGlyphs">EV + IFNb 200 IU</text>
<line x1="114.9" y1="402.5" x2="127.9" y2="402.5" stroke="#44175b" stroke-width="1.4"/>
<rect x="118.98" y="400.08" width="4.83" height="4.83" fill="#44175b"/>
<text x="130.5" y="405.1" font-size="7.3" textLength="52.24" lengthAdjust="spacingAndGlyphs">EV + IFNb 500 IU</text>
<line x1="114.9" y1="416.6" x2="118" y2="416.6" stroke="#5aae3c" stroke-width="1.4"/>
<line x1="125.9" y1="416.6" x2="127.9" y2="416.6" stroke="#5aae3c" stroke-width="1.4"/>
<path d="M121.4 414.19 L123.82 418.56 L118.98 418.56 Z" fill="#5aae3c"/>
<text x="130.5" y="419.2" font-size="7.3" textLength="76.38" lengthAdjust="spacingAndGlyphs">EV Len 1&#956;M + IFNb 50 IU</text>
<line x1="114.9" y1="430.6" x2="118" y2="430.6" stroke="#223f7f" stroke-width="1.4"/>
<line x1="125.9" y1="430.6" x2="127.9" y2="430.6" stroke="#223f7f" stroke-width="1.4"/>
<path d="M121.4 433.02 L123.82 428.65 L118.98 428.65 Z" fill="#223f7f"/>
<text x="130.5" y="433.2" font-size="7.3" textLength="80.07" lengthAdjust="spacingAndGlyphs">EV Len 1&#956;M + IFNb 100 IU</text>
<line x1="114.9" y1="444.8" x2="118" y2="444.8" stroke="#9590d4" stroke-width="1.4"/>
<line x1="125.9" y1="444.8" x2="127.9" y2="444.8" stroke="#9590d4" stroke-width="1.4"/>
<path d="M121.4 442.62 L123.36 444.8 L121.4 446.99 L119.45 444.8 Z" fill="#9590d4"/>
<text x="130.5" y="447.4" font-size="7.3" textLength="80.07" lengthAdjust="spacingAndGlyphs">EV Len 1&#956;M + IFNb 200 IU</text>
<line x1="114.9" y1="458.6" x2="119" y2="458.6" stroke="#44175b" stroke-width="1.4"/>
<line x1="125.9" y1="458.6" x2="127.9" y2="458.6" stroke="#44175b" stroke-width="1.4"/>
<circle cx="121.4" cy="458.6" r="2.47" fill="none" stroke="#44175b" stroke-width="1.1"/>
<text x="130.5" y="461.2" font-size="7.3" textLength="80.07" lengthAdjust="spacingAndGlyphs">EV Len 1&#956;M + IFNb 500 IU</text>
<line x1="254.9" y1="402.5" x2="267.5" y2="402.5" stroke="#a60a33" stroke-width="1.4"/>
<rect x="258.73" y="400.03" width="4.94" height="4.94" fill="none" stroke="#a60a33" stroke-width="1.1"/>
<text x="271" y="405.1" font-size="7.3" textLength="21.42" lengthAdjust="spacingAndGlyphs">EV dox</text>
<line x1="255.2" y1="416.6" x2="256.8" y2="416.6" stroke="#a60a33" stroke-width="1.4"/>
<line x1="265.9" y1="416.6" x2="267.5" y2="416.6" stroke="#a60a33" stroke-width="1.4"/>
<path d="M261.2 414.07 L263.84 418.56 L258.56 418.56 Z" fill="none" stroke="#a60a33" stroke-width="1.32"/>
<text x="271" y="419.2" font-size="7.3" textLength="45.41" lengthAdjust="spacingAndGlyphs">IKZF1 20B Dox</text>
<line x1="254.9" y1="430.6" x2="267.5" y2="430.6" stroke="#5aae3c" stroke-width="1.4"/>
<path d="M261.2 433.13 L263.84 428.65 L258.56 428.65 Z" fill="none" stroke="#5aae3c" stroke-width="1.1"/>
<text x="271" y="433.2" font-size="7.3" textLength="48.55" lengthAdjust="spacingAndGlyphs">EV + IFNb 50 IU</text>
<line x1="254.9" y1="444.8" x2="267.5" y2="444.8" stroke="#223f7f" stroke-width="1.4"/>
<path d="M261.2 442.38 L263.38 444.8 L261.2 447.22 L259.01 444.8 Z" fill="none" stroke="#223f7f" stroke-width="1.1"/>
<text x="271" y="447.4" font-size="7.3" textLength="52.24" lengthAdjust="spacingAndGlyphs">EV + IFNb 100 IU</text>
<line x1="254.9" y1="458.6" x2="267.5" y2="458.6" stroke="#9590d4" stroke-width="1.4"/>
<circle cx="261.2" cy="458.6" r="2.64" fill="#9590d4"/>
<text x="271" y="461.2" font-size="7.3" textLength="52.24" lengthAdjust="spacingAndGlyphs">EV + IFNb 200 IU</text>
<line x1="350.8" y1="402.5" x2="363.7" y2="402.5" stroke="#44175b" stroke-width="1.4"/>
<rect x="354.83" y="400.08" width="4.83" height="4.83" fill="#44175b"/>
<text x="367" y="405.1" font-size="7.3" textLength="52.24" lengthAdjust="spacingAndGlyphs">EV + IFNb 500 IU</text>
<line x1="350.8" y1="416.6" x2="353.9" y2="416.6" stroke="#5aae3c" stroke-width="1.4"/>
<line x1="361.7" y1="416.6" x2="363.7" y2="416.6" stroke="#5aae3c" stroke-width="1.4"/>
<path d="M357.25 414.19 L359.67 418.56 L354.83 418.56 Z" fill="#5aae3c"/>
<text x="367" y="419.2" font-size="7.3" textLength="85.1" lengthAdjust="spacingAndGlyphs">IKZF1 20B Dox + IFNb 50 IU</text>
<line x1="350.8" y1="430.6" x2="353.9" y2="430.6" stroke="#223f7f" stroke-width="1.4"/>
<line x1="361.7" y1="430.6" x2="363.7" y2="430.6" stroke="#223f7f" stroke-width="1.4"/>
<path d="M357.25 433.02 L359.67 428.65 L354.83 428.65 Z" fill="#223f7f"/>
<text x="367" y="433.2" font-size="7.3" textLength="88.79" lengthAdjust="spacingAndGlyphs">IKZF1 20B Dox + IFNb 100 IU</text>
<line x1="350.8" y1="444.8" x2="353.9" y2="444.8" stroke="#9590d4" stroke-width="1.4"/>
<line x1="361.7" y1="444.8" x2="363.7" y2="444.8" stroke="#9590d4" stroke-width="1.4"/>
<path d="M357.25 442.62 L359.2 444.8 L357.25 446.99 L355.3 444.8 Z" fill="#9590d4"/>
<text x="367" y="447.4" font-size="7.3" textLength="88.79" lengthAdjust="spacingAndGlyphs">IKZF1 20B Dox + IFNb 200 IU</text>
<line x1="350.8" y1="458.6" x2="354.85" y2="458.6" stroke="#44175b" stroke-width="1.4"/>
<line x1="361.7" y1="458.6" x2="363.7" y2="458.6" stroke="#44175b" stroke-width="1.4"/>
<circle cx="357.25" cy="458.6" r="2.47" fill="none" stroke="#44175b" stroke-width="1.1"/>
<text x="367" y="461.2" font-size="7.3" textLength="88.79" lengthAdjust="spacingAndGlyphs">IKZF1 20B Dox + IFNb 500 IU</text>
<text x="82.5" y="488.7" font-size="10.5" textLength="5.8" lengthAdjust="spacingAndGlyphs">E</text>
<line x1="148.5" y1="480.6" x2="148.5" y2="629.7" stroke="#231f20" stroke-width="1.2"/>
<line x1="145.8" y1="629.1" x2="414.9" y2="629.1" stroke="#231f20" stroke-width="1.2"/>
<line x1="145.8" y1="629.1" x2="148.5" y2="629.1" stroke="#231f20" stroke-width="1"/>
<text x="141.8" y="631.6" font-size="7.2" text-anchor="end" textLength="3.64" lengthAdjust="spacingAndGlyphs">0</text>
<line x1="145.8" y1="592.62" x2="148.5" y2="592.62" stroke="#231f20" stroke-width="1"/>
<text x="141.8" y="595.12" font-size="7.2" text-anchor="end" textLength="9.11" lengthAdjust="spacingAndGlyphs">0.5</text>
<line x1="145.8" y1="556.15" x2="148.5" y2="556.15" stroke="#231f20" stroke-width="1"/>
<text x="141.8" y="558.65" font-size="7.2" text-anchor="end" textLength="9.11" lengthAdjust="spacingAndGlyphs">1.0</text>
<line x1="145.8" y1="519.67" x2="148.5" y2="519.67" stroke="#231f20" stroke-width="1"/>
<text x="141.8" y="522.17" font-size="7.2" text-anchor="end" textLength="9.11" lengthAdjust="spacingAndGlyphs">1.5</text>
<line x1="145.8" y1="483.2" x2="148.5" y2="483.2" stroke="#231f20" stroke-width="1"/>
<text x="141.8" y="485.7" font-size="7.2" text-anchor="end" textLength="9.11" lengthAdjust="spacingAndGlyphs">2.0</text>
<text x="125.8" y="554.5" font-size="8.8" text-anchor="middle" textLength="93" lengthAdjust="spacingAndGlyphs" transform="rotate(-90 125.8 554.5)">Cell viability (AUx10^6)</text>
<rect x="153.25" y="512.63" width="12.1" height="116.47" fill="#2e4a7e" stroke="#1f3a6c" stroke-width="0.5"/>
<line x1="159.3" y1="507.49" x2="159.3" y2="512.38" stroke="#231f20" stroke-width="1"/>
<line x1="156" y1="507.49" x2="162.6" y2="507.49" stroke="#231f20" stroke-width="1.2"/>
<line x1="159.3" y1="629.1" x2="159.3" y2="631.7" stroke="#231f20" stroke-width="1"/>
<rect x="157.5" y="639.5" width="3.6" height="1.2" fill="#555"/>
<rect x="157.5" y="651.2" width="3.6" height="1.2" fill="#555"/>
<rect x="169.55" y="533.06" width="12.1" height="96.04" fill="#2e4a7e" stroke="#1f3a6c" stroke-width="0.5"/>
<line x1="175.6" y1="529.89" x2="175.6" y2="532.81" stroke="#231f20" stroke-width="1"/>
<line x1="172.3" y1="529.89" x2="178.9" y2="529.89" stroke="#231f20" stroke-width="1.2"/>
<line x1="175.6" y1="629.1" x2="175.6" y2="631.7" stroke="#231f20" stroke-width="1"/>
<rect x="173.6" y="639.55" width="4" height="1.1" fill="#333"/>
<rect x="175.05" y="638.1" width="1.1" height="4" fill="#333"/>
<rect x="173.8" y="651.2" width="3.6" height="1.2" fill="#555"/>
<rect x="185.85" y="573.91" width="12.1" height="55.19" fill="#2e4a7e" stroke="#1f3a6c" stroke-width="0.5"/>
<line x1="191.9" y1="571.83" x2="191.9" y2="573.66" stroke="#231f20" stroke-width="1"/>
<line x1="188.6" y1="571.83" x2="195.2" y2="571.83" stroke="#231f20" stroke-width="1.2"/>
<line x1="191.9" y1="629.1" x2="191.9" y2="631.7" stroke="#231f20" stroke-width="1"/>
<rect x="190.1" y="639.5" width="3.6" height="1.2" fill="#555"/>
<rect x="189.9" y="651.25" width="4" height="1.1" fill="#333"/>
<rect x="191.35" y="649.8" width="1.1" height="4" fill="#333"/>
<rect x="202.15" y="600.17" width="12.1" height="28.93" fill="#2e4a7e" stroke="#1f3a6c" stroke-width="0.5"/>
<line x1="208.2" y1="598.83" x2="208.2" y2="599.92" stroke="#231f20" stroke-width="1"/>
<line x1="204.9" y1="598.83" x2="211.5" y2="598.83" stroke="#231f20" stroke-width="1.2"/>
<line x1="208.2" y1="629.1" x2="208.2" y2="631.7" stroke="#231f20" stroke-width="1"/>
<rect x="206.2" y="639.55" width="4" height="1.1" fill="#333"/>
<rect x="207.65" y="638.1" width="1.1" height="4" fill="#333"/>
<rect x="206.2" y="651.25" width="4" height="1.1" fill="#333"/>
<rect x="207.65" y="649.8" width="1.1" height="4" fill="#333"/>
<rect x="218.45" y="509.35" width="12.1" height="119.75" fill="#5a6a9c" stroke="#4a5a8e" stroke-width="0.5"/>
<line x1="224.5" y1="507.27" x2="224.5" y2="509.1" stroke="#231f20" stroke-width="1"/>
<line x1="221.2" y1="507.27" x2="227.8" y2="507.27" stroke="#231f20" stroke-width="1.2"/>
<line x1="224.5" y1="629.1" x2="224.5" y2="631.7" stroke="#231f20" stroke-width="1"/>
<rect x="222.7" y="639.5" width="3.6" height="1.2" fill="#555"/>
<rect x="222.7" y="651.2" width="3.6" height="1.2" fill="#555"/>
<rect x="234.75" y="523.94" width="12.1" height="105.16" fill="#5a6a9c" stroke="#4a5a8e" stroke-width="0.5"/>
<line x1="240.8" y1="518.22" x2="240.8" y2="523.69" stroke="#231f20" stroke-width="1"/>
<line x1="237.5" y1="518.22" x2="244.1" y2="518.22" stroke="#231f20" stroke-width="1.2"/>
<line x1="240.8" y1="629.1" x2="240.8" y2="631.7" stroke="#231f20" stroke-width="1"/>
<rect x="238.8" y="639.55" width="4" height="1.1" fill="#333"/>
<rect x="240.25" y="638.1" width="1.1" height="4" fill="#333"/>
<rect x="239" y="651.2" width="3.6" height="1.2" fill="#555"/>
<rect x="251.05" y="550.56" width="12.1" height="78.54" fill="#5a6a9c" stroke="#4a5a8e" stroke-width="0.5"/>
<line x1="257.1" y1="546.67" x2="257.1" y2="550.31" stroke="#231f20" stroke-width="1"/>
<line x1="253.8" y1="546.67" x2="260.4" y2="546.67" stroke="#231f20" stroke-width="1.2"/>
<line x1="257.1" y1="629.1" x2="257.1" y2="631.7" stroke="#231f20" stroke-width="1"/>
<rect x="255.3" y="639.5" width="3.6" height="1.2" fill="#555"/>
<rect x="255.1" y="651.25" width="4" height="1.1" fill="#333"/>
<rect x="256.55" y="649.8" width="1.1" height="4" fill="#333"/>
<rect x="267.35" y="570.99" width="12.1" height="58.11" fill="#5a6a9c" stroke="#4a5a8e" stroke-width="0.5"/>
<line x1="273.4" y1="567.09" x2="273.4" y2="570.74" stroke="#231f20" stroke-width="1"/>
<line x1="270.1" y1="567.09" x2="276.7" y2="567.09" stroke="#231f20" stroke-width="1.2"/>
<line x1="273.4" y1="629.1" x2="273.4" y2="631.7" stroke="#231f20" stroke-width="1"/>
<rect x="271.4" y="639.55" width="4" height="1.1" fill="#333"/>
<rect x="272.85" y="638.1" width="1.1" height="4" fill="#333"/>
<rect x="271.4" y="651.25" width="4" height="1.1" fill="#333"/>
<rect x="272.85" y="649.8" width="1.1" height="4" fill="#333"/>
<rect x="283.65" y="514.82" width="12.1" height="114.28" fill="#8c92b9" stroke="#7c82ab" stroke-width="0.5"/>
<line x1="289.7" y1="506.91" x2="289.7" y2="514.57" stroke="#231f20" stroke-width="1"/>
<line x1="286.4" y1="506.91" x2="293" y2="506.91" stroke="#231f20" stroke-width="1.2"/>
<line x1="289.7" y1="629.1" x2="289.7" y2="631.7" stroke="#231f20" stroke-width="1"/>
<rect x="287.9" y="639.5" width="3.6" height="1.2" fill="#555"/>
<rect x="287.9" y="651.2" width="3.6" height="1.2" fill="#555"/>
<rect x="299.95" y="535.24" width="12.1" height="93.86" fill="#8c92b9" stroke="#7c82ab" stroke-width="0.5"/>
<line x1="306" y1="528.43" x2="306" y2="534.99" stroke="#231f20" stroke-width="1"/>
<line x1="302.7" y1="528.43" x2="309.3" y2="528.43" stroke="#231f20" stroke-width="1.2"/>
<line x1="306" y1="629.1" x2="306" y2="631.7" stroke="#231f20" stroke-width="1"/>
<rect x="304" y="639.55" width="4" height="1.1" fill="#333"/>
<rect x="305.45" y="638.1" width="1.1" height="4" fill="#333"/>
<rect x="304.2" y="651.2" width="3.6" height="1.2" fill="#555"/>
<rect x="316.25" y="503.88" width="12.1" height="125.22" fill="#8c92b9" stroke="#7c82ab" stroke-width="0.5"/>
<line x1="322.3" y1="499.61" x2="322.3" y2="503.63" stroke="#231f20" stroke-width="1"/>
<line x1="319" y1="499.61" x2="325.6" y2="499.61" stroke="#231f20" stroke-width="1.2"/>
<line x1="322.3" y1="629.1" x2="322.3" y2="631.7" stroke="#231f20" stroke-width="1"/>
<rect x="320.5" y="639.5" width="3.6" height="1.2" fill="#555"/>
<rect x="320.3" y="651.25" width="4" height="1.1" fill="#333"/>
<rect x="321.75" y="649.8" width="1.1" height="4" fill="#333"/>
<rect x="332.55" y="515.91" width="12.1" height="113.19" fill="#8c92b9" stroke="#7c82ab" stroke-width="0.5"/>
<line x1="338.6" y1="509.46" x2="338.6" y2="515.66" stroke="#231f20" stroke-width="1"/>
<line x1="335.3" y1="509.46" x2="341.9" y2="509.46" stroke="#231f20" stroke-width="1.2"/>
<line x1="338.6" y1="629.1" x2="338.6" y2="631.7" stroke="#231f20" stroke-width="1"/>
<rect x="336.6" y="639.55" width="4" height="1.1" fill="#333"/>
<rect x="338.05" y="638.1" width="1.1" height="4" fill="#333"/>
<rect x="336.6" y="651.25" width="4" height="1.1" fill="#333"/>
<rect x="338.05" y="649.8" width="1.1" height="4" fill="#333"/>
<rect x="348.85" y="523.57" width="12.1" height="105.53" fill="#c7c9de" stroke="#b6b9d2" stroke-width="0.5"/>
<line x1="354.9" y1="516.76" x2="354.9" y2="523.32" stroke="#231f20" stroke-width="1"/>
<line x1="351.6" y1="516.76" x2="358.2" y2="516.76" stroke="#231f20" stroke-width="1.2"/>
<line x1="354.9" y1="629.1" x2="354.9" y2="631.7" stroke="#231f20" stroke-width="1"/>
<rect x="353.1" y="639.5" width="3.6" height="1.2" fill="#555"/>
<rect x="353.1" y="651.2" width="3.6" height="1.2" fill="#555"/>
<rect x="365.15" y="543.27" width="12.1" height="85.83" fill="#c7c9de" stroke="#b6b9d2" stroke-width="0.5"/>
<line x1="371.2" y1="541.56" x2="371.2" y2="543.02" stroke="#231f20" stroke-width="1"/>
<line x1="367.9" y1="541.56" x2="374.5" y2="541.56" stroke="#231f20" stroke-width="1.2"/>
<line x1="371.2" y1="629.1" x2="371.2" y2="631.7" stroke="#231f20" stroke-width="1"/>
<rect x="369.2" y="639.55" width="4" height="1.1" fill="#333"/>
<rect x="370.65" y="638.1" width="1.1" height="4" fill="#333"/>
<rect x="369.4" y="651.2" width="3.6" height="1.2" fill="#555"/>
<rect x="381.45" y="582.66" width="12.1" height="46.44" fill="#c7c9de" stroke="#b6b9d2" stroke-width="0.5"/>
<line x1="387.5" y1="581.68" x2="387.5" y2="582.41" stroke="#231f20" stroke-width="1"/>
<line x1="384.2" y1="581.68" x2="390.8" y2="581.68" stroke="#231f20" stroke-width="1.2"/>
<line x1="387.5" y1="629.1" x2="387.5" y2="631.7" stroke="#231f20" stroke-width="1"/>
<rect x="385.7" y="639.5" width="3.6" height="1.2" fill="#555"/>
<rect x="385.5" y="651.25" width="4" height="1.1" fill="#333"/>
<rect x="386.95" y="649.8" width="1.1" height="4" fill="#333"/>
<rect x="397.75" y="607.68" width="12.1" height="21.42" fill="#c7c9de" stroke="#b6b9d2" stroke-width="0.5"/>
<line x1="403.8" y1="605.97" x2="403.8" y2="607.43" stroke="#231f20" stroke-width="1"/>
<line x1="400.5" y1="605.97" x2="407.1" y2="605.97" stroke="#231f20" stroke-width="1.2"/>
<line x1="403.8" y1="629.1" x2="403.8" y2="631.7" stroke="#231f20" stroke-width="1"/>
<rect x="401.8" y="639.55" width="4" height="1.1" fill="#333"/>
<rect x="403.25" y="638.1" width="1.1" height="4" fill="#333"/>
<rect x="401.8" y="651.25" width="4" height="1.1" fill="#333"/>
<rect x="403.25" y="649.8" width="1.1" height="4" fill="#333"/>
<text x="148" y="642.2" font-size="7.3" text-anchor="end" textLength="28.6" lengthAdjust="spacingAndGlyphs">Len 1&#956;M</text>
<text x="148" y="653.9" font-size="7.3" text-anchor="end" textLength="38.2" lengthAdjust="spacingAndGlyphs">IFNb 500 IU</text>
<rect x="398.2" y="483.1" width="14.9" height="8.7" fill="#2e4a7e"/>
<text x="416.2" y="490.1" font-size="7">H929</text>
<rect x="398.2" y="499.5" width="14.9" height="8.7" fill="#5a6a9c"/>
<text x="416.2" y="506.5" font-size="7">MM1S</text>
<rect x="398.2" y="515.8" width="14.9" height="8.7" fill="#8c92b9"/>
<text x="416.2" y="522.8" font-size="7">OPM2</text>
<rect x="398.2" y="532.3" width="14.9" height="8.7" fill="#c7c9de"/>
<text x="416.2" y="539.3" font-size="7">U266</text>
<g shape-rendering="crispEdges">
<rect x="0" y="1" width="520" height="1" fill="#909090"/>
<rect x="1" y="0" width="1" height="663" fill="#8d8d8d"/>
<rect x="518" y="0" width="1" height="663" fill="#888888"/>
<rect x="0" y="661" width="520" height="1" fill="#999999"/>
<rect x="0" y="0" width="520" height="1" fill="#363636"/>
<rect x="0" y="0" width="1" height="663" fill="#363636"/>
<rect x="519" y="0" width="1" height="663" fill="#000"/>
<rect x="0" y="662" width="520" height="1" fill="#000"/>
</g>
</svg>
</body></html>
